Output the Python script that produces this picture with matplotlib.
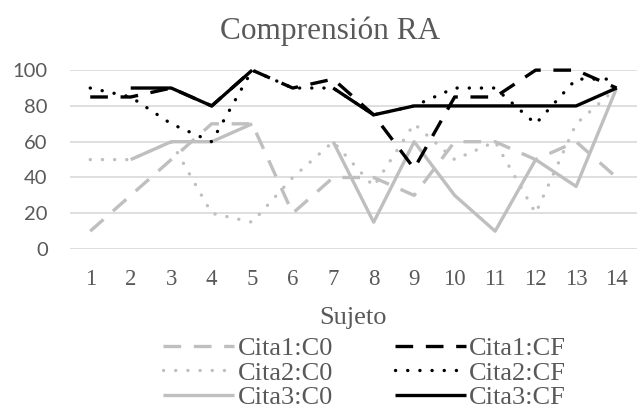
import numpy as np
import matplotlib
matplotlib.use("Agg")
import matplotlib.pyplot as plt

nan = np.nan

# ----- data -----
sujetos = list(range(1, 15))

cita1_c0 = [10, 30, 50, 70, 70, 20, 40, 40, 30, 60, 60, 50, 60, 40]
cita2_c0 = [50, 50, 60, 20, 15, 40, 60, 35, 70, 50, 60, 20, 70, 90]
cita3_c0 = [nan, 50, 60, 60, 70, nan, 60, 15, 60, 30, 10, 50, 35, 90]

cita1_cf = [85, 85, 90, 80, 100, 90, 95, 75, 45, 85, 85, 100, 100, 90]
cita2_cf = [90, 85, 70, 60, 100, 90, 90, 75, 80, 90, 90, 70, 95, 95]
cita3_cf = [nan, 90, 90, 80, 100, nan, 90, 75, 80, 80, 80, 80, 80, 90]

labels = ["Cita1:C0", "Cita2:C0", "Cita3:C0", "Cita1:CF", "Cita2:CF", "Cita3:CF"]

GRAY = "#bfbfbf"
TEXT = "#595959"
SERIF = "Liberation Serif"
SANS = "Lato"

fig = plt.figure(figsize=(6.42, 4.2), dpi=100)
ax = fig.add_axes([0.109, 0.407, 0.883, 0.426])

lw = 2.4
dash = (5.3, 3.8)
dot = (0.05, 3.6)

series = [
    (cita1_c0, GRAY, dash),
    (cita2_c0, GRAY, dot),
    (cita3_c0, GRAY, None),
    (cita1_cf, "black", dash),
    (cita2_cf, "black", dot),
    (cita3_cf, "black", None),
]

handles = []
for (vals, col, ds), lab in zip(series, labels):
    line, = ax.plot(sujetos, vals, color=col, lw=lw, label=lab,
                    solid_capstyle="butt", clip_on=False)
    if ds is not None:
        line.set_dashes(ds)
        line.set_dash_capstyle("round" if ds == dot else "butt")
    handles.append(line)

ax.set_xlim(0.5, 14.5)
ax.set_ylim(0, 100)
ax.set_xticks(sujetos)
ax.set_xticklabels([str(s) for s in sujetos], fontfamily=SERIF, fontsize=16.5, color=TEXT)
ax.set_yticks(range(0, 101, 20))
ax.set_yticklabels([str(v) for v in range(0, 101, 20)], fontfamily=SANS, fontsize=14.5, color=TEXT)
ax.tick_params(axis="x", length=0, pad=14)
ax.tick_params(axis="y", length=0, pad=16)
ax.grid(axis="y", color="#d9d9d9", lw=1.2)
ax.set_axisbelow(True)
for s in ax.spines.values():
    s.set_visible(False)

fig.text(0.514, 0.925, "Comprensión RA", ha="center", va="center",
         fontfamily=SERIF, fontsize=22.5, color=TEXT)
fig.text(0.55, 0.243, "Sujeto", ha="center", va="center",
         fontfamily=SERIF, fontsize=19, color=TEXT)

leg = fig.legend(handles=handles, loc="center left", bbox_to_anchor=(0.2375, 0.112),
                 ncol=2, frameon=False, handlelength=2.7, handletextpad=0.12,
                 columnspacing=2.35, labelspacing=0.05, borderpad=0.4,
                 borderaxespad=0, prop={"family": SERIF, "size": 19})
for t in leg.get_texts():
    t.set_color(TEXT)

fig.savefig("out.png", dpi=100)
